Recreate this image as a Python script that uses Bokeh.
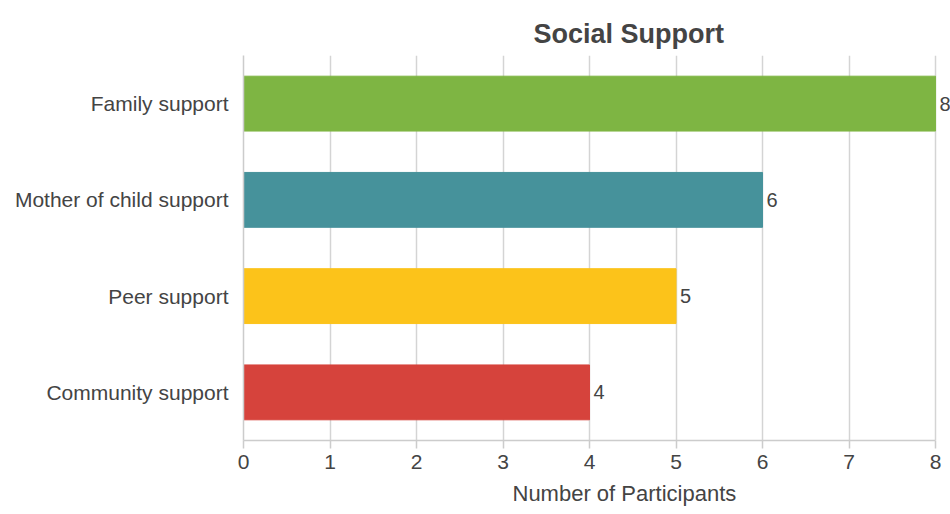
from bokeh.plotting import figure
from bokeh.models import ColumnDataSource, FactorRange, Title
from bokeh.core.properties import value
from bokeh.embed import file_html
from bokeh.resources import INLINE

categories = ["Family support", "Mother of child support", "Peer support", "Community support"]
participants = [8, 6, 5, 4]
colors = ["#7eb543", "#46929b", "#fcc31a", "#d6433c"]
x_ticks = [0, 1, 2, 3, 4, 5, 6, 7, 8]

FONT = "Liberation Sans"
TXT = "#444444"

src = ColumnDataSource(dict(cat=categories, val=participants, color=colors,
                            label=[str(v) for v in participants]))

p = figure(width=950, height=514, output_backend="svg", toolbar_location=None,
           y_range=FactorRange(factors=list(reversed(categories))),
           x_range=(0, 8.173), min_border_left=243, min_border_right=0,
           min_border_top=55, min_border_bottom=74)
p.outline_line_color = None

p.hbar(y="cat", right="val", left=0, height=0.57, color="color", source=src)
p.text(x="val", y="cat", text="label", source=src, x_offset=4,
       text_baseline="middle", text_align="left", text_font=value(FONT),
       text_font_size="20px", text_color=TXT)

p.title.text = "Social Support"
p.title.text_font = FONT
p.title.text_font_size = "27px"
p.title.text_font_style = "bold"
p.title.text_color = TXT
p.title.align = "left"
p.title.offset = 290
p.title.standoff = 13

p.xaxis.ticker = x_ticks
p.xaxis.bounds = (0, 8)
p.xaxis.axis_line_color = "#cccccc"
p.xaxis.axis_line_width = 1.5
p.xaxis.major_tick_line_color = "#cccccc"
p.xaxis.major_tick_line_width = 1.5
p.xaxis.major_tick_out = 8
p.xaxis.major_tick_in = 0
p.xaxis.minor_tick_line_color = None
p.xaxis.major_label_text_font = FONT
p.xaxis.major_label_text_font_size = "21px"
p.xaxis.major_label_text_color = TXT
p.xaxis.major_label_standoff = 6

p.yaxis.axis_line_color = "#cccccc"
p.yaxis.axis_line_width = 1.5
p.yaxis.major_tick_line_color = None
p.yaxis.minor_tick_line_color = None
p.yaxis.major_label_text_font = FONT
p.yaxis.major_label_text_font_size = "21px"
p.yaxis.major_label_text_color = TXT
p.yaxis.major_label_standoff = 9

p.xgrid.ticker = x_ticks
p.xgrid.bounds = (0, 8)
p.xgrid.grid_line_color = "#d4d4d4"
p.xgrid.grid_line_width = 1.5
p.ygrid.grid_line_color = None

p.add_layout(Title(text="Number of Participants", align="left", offset=269,
                   standoff=15, text_font=FONT, text_font_size="22px",
                   text_font_style="normal", text_color=TXT), "below")

open("out.html", "w").write(file_html(p, INLINE))
